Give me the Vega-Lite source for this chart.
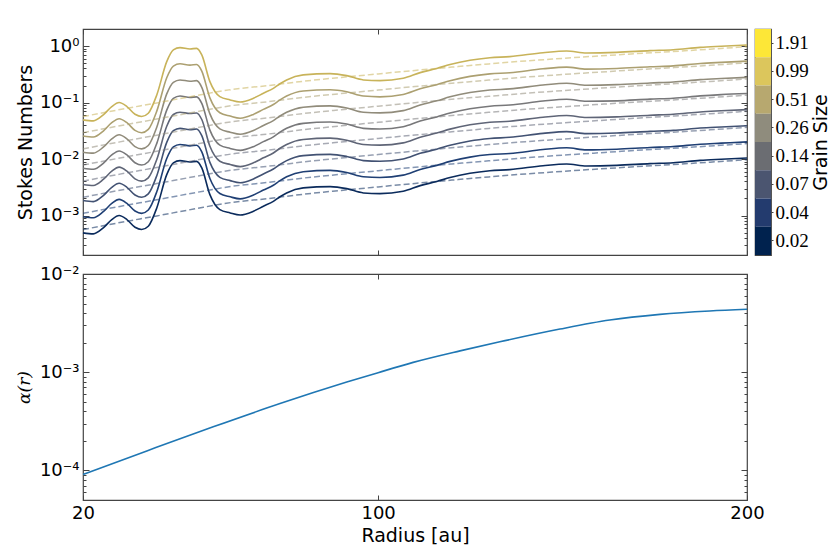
{
  "$schema": "https://vega.github.io/schema/vega-lite/v6.json",
  "background": "white",
  "padding": {"left": 14, "top": 27, "right": 0, "bottom": 5},
  "config": {
    "view": {"stroke": "#444444", "strokeWidth": 1.2},
    "axis": {
      "domain": false,
      "grid": false,
      "labelFont": "DejaVu Sans",
      "labelFontSize": 18,
      "labelColor": "#000000",
      "titleFont": "DejaVu Sans",
      "titleFontSize": 19,
      "titleFontWeight": "normal",
      "titleColor": "#000000",
      "tickColor": "#444444",
      "labelFlush": false
    }
  },
  "datasets": {
    "solid": [
      {"radius":20,"stokes":0.0493,"grain":"1.91"},{"radius":22.8,"stokes":0.0473,"grain":"1.91"},{"radius":25.5,"stokes":0.0604,"grain":"1.91"},{"radius":27.8,"stokes":0.0847,"grain":"1.91"},{"radius":29.8,"stokes":0.0998,"grain":"1.91"},{"radius":31.9,"stokes":0.0847,"grain":"1.91"},{"radius":34.1,"stokes":0.0619,"grain":"1.91"},{"radius":35.9,"stokes":0.0564,"grain":"1.91"},{"radius":37.7,"stokes":0.0645,"grain":"1.91"},{"radius":40,"stokes":0.136,"grain":"1.91"},{"radius":42.7,"stokes":0.528,"grain":"1.91"},{"radius":44.5,"stokes":0.851,"grain":"1.91"},{"radius":46.3,"stokes":0.935,"grain":"1.91"},{"radius":49,"stokes":0.887,"grain":"1.91"},{"radius":50.8,"stokes":0.908,"grain":"1.91"},{"radius":52.2,"stokes":0.695,"grain":"1.91"},{"radius":54.4,"stokes":0.234,"grain":"1.91"},{"radius":57.1,"stokes":0.127,"grain":"1.91"},{"radius":59.9,"stokes":0.111,"grain":"1.91"},{"radius":62.6,"stokes":0.102,"grain":"1.91"},{"radius":66.2,"stokes":0.119,"grain":"1.91"},{"radius":68.9,"stokes":0.146,"grain":"1.91"},{"radius":71.6,"stokes":0.178,"grain":"1.91"},{"radius":73.4,"stokes":0.215,"grain":"1.91"},{"radius":75.2,"stokes":0.251,"grain":"1.91"},{"radius":79.7,"stokes":0.308,"grain":"1.91"},{"radius":87,"stokes":0.325,"grain":"1.91"},{"radius":91.5,"stokes":0.299,"grain":"1.91"},{"radius":96,"stokes":0.251,"grain":"1.91"},{"radius":100.5,"stokes":0.244,"grain":"1.91"},{"radius":106.8,"stokes":0.268,"grain":"1.91"},{"radius":111.4,"stokes":0.338,"grain":"1.91"},{"radius":115.9,"stokes":0.4,"grain":"1.91"},{"radius":119.5,"stokes":0.47,"grain":"1.91"},{"radius":124.9,"stokes":0.56,"grain":"1.91"},{"radius":130.3,"stokes":0.62,"grain":"1.91"},{"radius":135.7,"stokes":0.649,"grain":"1.91"},{"radius":144.7,"stokes":0.762,"grain":"1.91"},{"radius":151.1,"stokes":0.817,"grain":"1.91"},{"radius":156.5,"stokes":0.753,"grain":"1.91"},{"radius":164.7,"stokes":0.772,"grain":"1.91"},{"radius":173.7,"stokes":0.828,"grain":"1.91"},{"radius":180,"stokes":0.86,"grain":"1.91"},{"radius":187.3,"stokes":0.946,"grain":"1.91"},{"radius":193,"stokes":0.99,"grain":"1.91"},{"radius":200,"stokes":1.04,"grain":"1.91"},
      {"radius":20,"stokes":0.0255,"grain":"0.99"},{"radius":22.8,"stokes":0.0245,"grain":"0.99"},{"radius":25.5,"stokes":0.0313,"grain":"0.99"},{"radius":27.8,"stokes":0.0439,"grain":"0.99"},{"radius":29.8,"stokes":0.0517,"grain":"0.99"},{"radius":31.9,"stokes":0.0439,"grain":"0.99"},{"radius":34.1,"stokes":0.0321,"grain":"0.99"},{"radius":35.9,"stokes":0.0292,"grain":"0.99"},{"radius":37.7,"stokes":0.0334,"grain":"0.99"},{"radius":40,"stokes":0.0704,"grain":"0.99"},{"radius":42.7,"stokes":0.274,"grain":"0.99"},{"radius":44.5,"stokes":0.441,"grain":"0.99"},{"radius":46.3,"stokes":0.484,"grain":"0.99"},{"radius":49,"stokes":0.459,"grain":"0.99"},{"radius":50.8,"stokes":0.47,"grain":"0.99"},{"radius":52.2,"stokes":0.36,"grain":"0.99"},{"radius":54.4,"stokes":0.121,"grain":"0.99"},{"radius":57.1,"stokes":0.0658,"grain":"0.99"},{"radius":59.9,"stokes":0.0575,"grain":"0.99"},{"radius":62.6,"stokes":0.0528,"grain":"0.99"},{"radius":66.2,"stokes":0.0616,"grain":"0.99"},{"radius":68.9,"stokes":0.0756,"grain":"0.99"},{"radius":71.6,"stokes":0.0922,"grain":"0.99"},{"radius":73.4,"stokes":0.111,"grain":"0.99"},{"radius":75.2,"stokes":0.13,"grain":"0.99"},{"radius":79.7,"stokes":0.16,"grain":"0.99"},{"radius":87,"stokes":0.168,"grain":"0.99"},{"radius":91.5,"stokes":0.155,"grain":"0.99"},{"radius":96,"stokes":0.13,"grain":"0.99"},{"radius":100.5,"stokes":0.126,"grain":"0.99"},{"radius":106.8,"stokes":0.139,"grain":"0.99"},{"radius":111.4,"stokes":0.175,"grain":"0.99"},{"radius":115.9,"stokes":0.207,"grain":"0.99"},{"radius":119.5,"stokes":0.243,"grain":"0.99"},{"radius":124.9,"stokes":0.29,"grain":"0.99"},{"radius":130.3,"stokes":0.321,"grain":"0.99"},{"radius":135.7,"stokes":0.336,"grain":"0.99"},{"radius":144.7,"stokes":0.395,"grain":"0.99"},{"radius":151.1,"stokes":0.423,"grain":"0.99"},{"radius":156.5,"stokes":0.39,"grain":"0.99"},{"radius":164.7,"stokes":0.4,"grain":"0.99"},{"radius":173.7,"stokes":0.429,"grain":"0.99"},{"radius":180,"stokes":0.445,"grain":"0.99"},{"radius":187.3,"stokes":0.49,"grain":"0.99"},{"radius":193,"stokes":0.513,"grain":"0.99"},{"radius":200,"stokes":0.539,"grain":"0.99"},
      {"radius":20,"stokes":0.0132,"grain":"0.51"},{"radius":22.8,"stokes":0.0127,"grain":"0.51"},{"radius":25.5,"stokes":0.0162,"grain":"0.51"},{"radius":27.8,"stokes":0.0227,"grain":"0.51"},{"radius":29.8,"stokes":0.0268,"grain":"0.51"},{"radius":31.9,"stokes":0.0227,"grain":"0.51"},{"radius":34.1,"stokes":0.0166,"grain":"0.51"},{"radius":35.9,"stokes":0.0151,"grain":"0.51"},{"radius":37.7,"stokes":0.0173,"grain":"0.51"},{"radius":40,"stokes":0.0365,"grain":"0.51"},{"radius":42.7,"stokes":0.142,"grain":"0.51"},{"radius":44.5,"stokes":0.228,"grain":"0.51"},{"radius":46.3,"stokes":0.251,"grain":"0.51"},{"radius":49,"stokes":0.238,"grain":"0.51"},{"radius":50.8,"stokes":0.244,"grain":"0.51"},{"radius":52.2,"stokes":0.186,"grain":"0.51"},{"radius":54.4,"stokes":0.0628,"grain":"0.51"},{"radius":57.1,"stokes":0.0341,"grain":"0.51"},{"radius":59.9,"stokes":0.0298,"grain":"0.51"},{"radius":62.6,"stokes":0.0274,"grain":"0.51"},{"radius":66.2,"stokes":0.0319,"grain":"0.51"},{"radius":68.9,"stokes":0.0392,"grain":"0.51"},{"radius":71.6,"stokes":0.0478,"grain":"0.51"},{"radius":73.4,"stokes":0.0577,"grain":"0.51"},{"radius":75.2,"stokes":0.0673,"grain":"0.51"},{"radius":79.7,"stokes":0.0826,"grain":"0.51"},{"radius":87,"stokes":0.0872,"grain":"0.51"},{"radius":91.5,"stokes":0.0802,"grain":"0.51"},{"radius":96,"stokes":0.0673,"grain":"0.51"},{"radius":100.5,"stokes":0.0655,"grain":"0.51"},{"radius":106.8,"stokes":0.0719,"grain":"0.51"},{"radius":111.4,"stokes":0.0907,"grain":"0.51"},{"radius":115.9,"stokes":0.107,"grain":"0.51"},{"radius":119.5,"stokes":0.126,"grain":"0.51"},{"radius":124.9,"stokes":0.15,"grain":"0.51"},{"radius":130.3,"stokes":0.166,"grain":"0.51"},{"radius":135.7,"stokes":0.174,"grain":"0.51"},{"radius":144.7,"stokes":0.204,"grain":"0.51"},{"radius":151.1,"stokes":0.219,"grain":"0.51"},{"radius":156.5,"stokes":0.202,"grain":"0.51"},{"radius":164.7,"stokes":0.207,"grain":"0.51"},{"radius":173.7,"stokes":0.222,"grain":"0.51"},{"radius":180,"stokes":0.231,"grain":"0.51"},{"radius":187.3,"stokes":0.254,"grain":"0.51"},{"radius":193,"stokes":0.266,"grain":"0.51"},{"radius":200,"stokes":0.279,"grain":"0.51"},
      {"radius":20,"stokes":0.00685,"grain":"0.26"},{"radius":22.8,"stokes":0.00657,"grain":"0.26"},{"radius":25.5,"stokes":0.00839,"grain":"0.26"},{"radius":27.8,"stokes":0.0118,"grain":"0.26"},{"radius":29.8,"stokes":0.0139,"grain":"0.26"},{"radius":31.9,"stokes":0.0118,"grain":"0.26"},{"radius":34.1,"stokes":0.0086,"grain":"0.26"},{"radius":35.9,"stokes":0.00783,"grain":"0.26"},{"radius":37.7,"stokes":0.00896,"grain":"0.26"},{"radius":40,"stokes":0.0189,"grain":"0.26"},{"radius":42.7,"stokes":0.0733,"grain":"0.26"},{"radius":44.5,"stokes":0.118,"grain":"0.26"},{"radius":46.3,"stokes":0.13,"grain":"0.26"},{"radius":49,"stokes":0.123,"grain":"0.26"},{"radius":50.8,"stokes":0.126,"grain":"0.26"},{"radius":52.2,"stokes":0.0965,"grain":"0.26"},{"radius":54.4,"stokes":0.0325,"grain":"0.26"},{"radius":57.1,"stokes":0.0176,"grain":"0.26"},{"radius":59.9,"stokes":0.0154,"grain":"0.26"},{"radius":62.6,"stokes":0.0142,"grain":"0.26"},{"radius":66.2,"stokes":0.0165,"grain":"0.26"},{"radius":68.9,"stokes":0.0203,"grain":"0.26"},{"radius":71.6,"stokes":0.0247,"grain":"0.26"},{"radius":73.4,"stokes":0.0299,"grain":"0.26"},{"radius":75.2,"stokes":0.0349,"grain":"0.26"},{"radius":79.7,"stokes":0.0428,"grain":"0.26"},{"radius":87,"stokes":0.0451,"grain":"0.26"},{"radius":91.5,"stokes":0.0415,"grain":"0.26"},{"radius":96,"stokes":0.0349,"grain":"0.26"},{"radius":100.5,"stokes":0.0339,"grain":"0.26"},{"radius":106.8,"stokes":0.0372,"grain":"0.26"},{"radius":111.4,"stokes":0.047,"grain":"0.26"},{"radius":115.9,"stokes":0.0556,"grain":"0.26"},{"radius":119.5,"stokes":0.0653,"grain":"0.26"},{"radius":124.9,"stokes":0.0778,"grain":"0.26"},{"radius":130.3,"stokes":0.0861,"grain":"0.26"},{"radius":135.7,"stokes":0.0902,"grain":"0.26"},{"radius":144.7,"stokes":0.106,"grain":"0.26"},{"radius":151.1,"stokes":0.114,"grain":"0.26"},{"radius":156.5,"stokes":0.105,"grain":"0.26"},{"radius":164.7,"stokes":0.107,"grain":"0.26"},{"radius":173.7,"stokes":0.115,"grain":"0.26"},{"radius":180,"stokes":0.119,"grain":"0.26"},{"radius":187.3,"stokes":0.131,"grain":"0.26"},{"radius":193,"stokes":0.138,"grain":"0.26"},{"radius":200,"stokes":0.144,"grain":"0.26"},
      {"radius":20,"stokes":0.00355,"grain":"0.14"},{"radius":22.8,"stokes":0.0034,"grain":"0.14"},{"radius":25.5,"stokes":0.00435,"grain":"0.14"},{"radius":27.8,"stokes":0.0061,"grain":"0.14"},{"radius":29.8,"stokes":0.00718,"grain":"0.14"},{"radius":31.9,"stokes":0.0061,"grain":"0.14"},{"radius":34.1,"stokes":0.00446,"grain":"0.14"},{"radius":35.9,"stokes":0.00406,"grain":"0.14"},{"radius":37.7,"stokes":0.00464,"grain":"0.14"},{"radius":40,"stokes":0.00979,"grain":"0.14"},{"radius":42.7,"stokes":0.038,"grain":"0.14"},{"radius":44.5,"stokes":0.0613,"grain":"0.14"},{"radius":46.3,"stokes":0.0673,"grain":"0.14"},{"radius":49,"stokes":0.0638,"grain":"0.14"},{"radius":50.8,"stokes":0.0654,"grain":"0.14"},{"radius":52.2,"stokes":0.05,"grain":"0.14"},{"radius":54.4,"stokes":0.0168,"grain":"0.14"},{"radius":57.1,"stokes":0.00914,"grain":"0.14"},{"radius":59.9,"stokes":0.00799,"grain":"0.14"},{"radius":62.6,"stokes":0.00734,"grain":"0.14"},{"radius":66.2,"stokes":0.00856,"grain":"0.14"},{"radius":68.9,"stokes":0.0105,"grain":"0.14"},{"radius":71.6,"stokes":0.0128,"grain":"0.14"},{"radius":73.4,"stokes":0.0155,"grain":"0.14"},{"radius":75.2,"stokes":0.0181,"grain":"0.14"},{"radius":79.7,"stokes":0.0222,"grain":"0.14"},{"radius":87,"stokes":0.0234,"grain":"0.14"},{"radius":91.5,"stokes":0.0215,"grain":"0.14"},{"radius":96,"stokes":0.0181,"grain":"0.14"},{"radius":100.5,"stokes":0.0176,"grain":"0.14"},{"radius":106.8,"stokes":0.0193,"grain":"0.14"},{"radius":111.4,"stokes":0.0243,"grain":"0.14"},{"radius":115.9,"stokes":0.0288,"grain":"0.14"},{"radius":119.5,"stokes":0.0338,"grain":"0.14"},{"radius":124.9,"stokes":0.0403,"grain":"0.14"},{"radius":130.3,"stokes":0.0446,"grain":"0.14"},{"radius":135.7,"stokes":0.0467,"grain":"0.14"},{"radius":144.7,"stokes":0.0548,"grain":"0.14"},{"radius":151.1,"stokes":0.0588,"grain":"0.14"},{"radius":156.5,"stokes":0.0542,"grain":"0.14"},{"radius":164.7,"stokes":0.0556,"grain":"0.14"},{"radius":173.7,"stokes":0.0596,"grain":"0.14"},{"radius":180,"stokes":0.0619,"grain":"0.14"},{"radius":187.3,"stokes":0.0681,"grain":"0.14"},{"radius":193,"stokes":0.0713,"grain":"0.14"},{"radius":200,"stokes":0.0749,"grain":"0.14"},
      {"radius":20,"stokes":0.00184,"grain":"0.07"},{"radius":22.8,"stokes":0.00176,"grain":"0.07"},{"radius":25.5,"stokes":0.00225,"grain":"0.07"},{"radius":27.8,"stokes":0.00316,"grain":"0.07"},{"radius":29.8,"stokes":0.00372,"grain":"0.07"},{"radius":31.9,"stokes":0.00316,"grain":"0.07"},{"radius":34.1,"stokes":0.00231,"grain":"0.07"},{"radius":35.9,"stokes":0.0021,"grain":"0.07"},{"radius":37.7,"stokes":0.00241,"grain":"0.07"},{"radius":40,"stokes":0.00507,"grain":"0.07"},{"radius":42.7,"stokes":0.0197,"grain":"0.07"},{"radius":44.5,"stokes":0.0317,"grain":"0.07"},{"radius":46.3,"stokes":0.0349,"grain":"0.07"},{"radius":49,"stokes":0.0331,"grain":"0.07"},{"radius":50.8,"stokes":0.0339,"grain":"0.07"},{"radius":52.2,"stokes":0.0259,"grain":"0.07"},{"radius":54.4,"stokes":0.00872,"grain":"0.07"},{"radius":57.1,"stokes":0.00474,"grain":"0.07"},{"radius":59.9,"stokes":0.00414,"grain":"0.07"},{"radius":62.6,"stokes":0.0038,"grain":"0.07"},{"radius":66.2,"stokes":0.00444,"grain":"0.07"},{"radius":68.9,"stokes":0.00544,"grain":"0.07"},{"radius":71.6,"stokes":0.00664,"grain":"0.07"},{"radius":73.4,"stokes":0.00802,"grain":"0.07"},{"radius":75.2,"stokes":0.00936,"grain":"0.07"},{"radius":79.7,"stokes":0.0115,"grain":"0.07"},{"radius":87,"stokes":0.0121,"grain":"0.07"},{"radius":91.5,"stokes":0.0111,"grain":"0.07"},{"radius":96,"stokes":0.00936,"grain":"0.07"},{"radius":100.5,"stokes":0.0091,"grain":"0.07"},{"radius":106.8,"stokes":0.00999,"grain":"0.07"},{"radius":111.4,"stokes":0.0126,"grain":"0.07"},{"radius":115.9,"stokes":0.0149,"grain":"0.07"},{"radius":119.5,"stokes":0.0175,"grain":"0.07"},{"radius":124.9,"stokes":0.0209,"grain":"0.07"},{"radius":130.3,"stokes":0.0231,"grain":"0.07"},{"radius":135.7,"stokes":0.0242,"grain":"0.07"},{"radius":144.7,"stokes":0.0284,"grain":"0.07"},{"radius":151.1,"stokes":0.0305,"grain":"0.07"},{"radius":156.5,"stokes":0.0281,"grain":"0.07"},{"radius":164.7,"stokes":0.0288,"grain":"0.07"},{"radius":173.7,"stokes":0.0309,"grain":"0.07"},{"radius":180,"stokes":0.0321,"grain":"0.07"},{"radius":187.3,"stokes":0.0353,"grain":"0.07"},{"radius":193,"stokes":0.0369,"grain":"0.07"},{"radius":200,"stokes":0.0388,"grain":"0.07"},
      {"radius":20,"stokes":0.000952,"grain":"0.04"},{"radius":22.8,"stokes":0.000913,"grain":"0.04"},{"radius":25.5,"stokes":0.00117,"grain":"0.04"},{"radius":27.8,"stokes":0.00164,"grain":"0.04"},{"radius":29.8,"stokes":0.00193,"grain":"0.04"},{"radius":31.9,"stokes":0.00164,"grain":"0.04"},{"radius":34.1,"stokes":0.0012,"grain":"0.04"},{"radius":35.9,"stokes":0.00109,"grain":"0.04"},{"radius":37.7,"stokes":0.00125,"grain":"0.04"},{"radius":40,"stokes":0.00263,"grain":"0.04"},{"radius":42.7,"stokes":0.0102,"grain":"0.04"},{"radius":44.5,"stokes":0.0164,"grain":"0.04"},{"radius":46.3,"stokes":0.0181,"grain":"0.04"},{"radius":49,"stokes":0.0171,"grain":"0.04"},{"radius":50.8,"stokes":0.0175,"grain":"0.04"},{"radius":52.2,"stokes":0.0134,"grain":"0.04"},{"radius":54.4,"stokes":0.00452,"grain":"0.04"},{"radius":57.1,"stokes":0.00245,"grain":"0.04"},{"radius":59.9,"stokes":0.00214,"grain":"0.04"},{"radius":62.6,"stokes":0.00197,"grain":"0.04"},{"radius":66.2,"stokes":0.0023,"grain":"0.04"},{"radius":68.9,"stokes":0.00282,"grain":"0.04"},{"radius":71.6,"stokes":0.00344,"grain":"0.04"},{"radius":73.4,"stokes":0.00415,"grain":"0.04"},{"radius":75.2,"stokes":0.00485,"grain":"0.04"},{"radius":79.7,"stokes":0.00595,"grain":"0.04"},{"radius":87,"stokes":0.00628,"grain":"0.04"},{"radius":91.5,"stokes":0.00577,"grain":"0.04"},{"radius":96,"stokes":0.00485,"grain":"0.04"},{"radius":100.5,"stokes":0.00471,"grain":"0.04"},{"radius":106.8,"stokes":0.00518,"grain":"0.04"},{"radius":111.4,"stokes":0.00653,"grain":"0.04"},{"radius":115.9,"stokes":0.00772,"grain":"0.04"},{"radius":119.5,"stokes":0.00908,"grain":"0.04"},{"radius":124.9,"stokes":0.0108,"grain":"0.04"},{"radius":130.3,"stokes":0.012,"grain":"0.04"},{"radius":135.7,"stokes":0.0125,"grain":"0.04"},{"radius":144.7,"stokes":0.0147,"grain":"0.04"},{"radius":151.1,"stokes":0.0158,"grain":"0.04"},{"radius":156.5,"stokes":0.0145,"grain":"0.04"},{"radius":164.7,"stokes":0.0149,"grain":"0.04"},{"radius":173.7,"stokes":0.016,"grain":"0.04"},{"radius":180,"stokes":0.0166,"grain":"0.04"},{"radius":187.3,"stokes":0.0183,"grain":"0.04"},{"radius":193,"stokes":0.0191,"grain":"0.04"},{"radius":200,"stokes":0.0201,"grain":"0.04"},
      {"radius":20,"stokes":0.000493,"grain":"0.02"},{"radius":22.8,"stokes":0.000473,"grain":"0.02"},{"radius":25.5,"stokes":0.000604,"grain":"0.02"},{"radius":27.8,"stokes":0.000847,"grain":"0.02"},{"radius":29.8,"stokes":0.000998,"grain":"0.02"},{"radius":31.9,"stokes":0.000847,"grain":"0.02"},{"radius":34.1,"stokes":0.000619,"grain":"0.02"},{"radius":35.9,"stokes":0.000564,"grain":"0.02"},{"radius":37.7,"stokes":0.000645,"grain":"0.02"},{"radius":40,"stokes":0.00136,"grain":"0.02"},{"radius":42.7,"stokes":0.00528,"grain":"0.02"},{"radius":44.5,"stokes":0.00851,"grain":"0.02"},{"radius":46.3,"stokes":0.00935,"grain":"0.02"},{"radius":49,"stokes":0.00887,"grain":"0.02"},{"radius":50.8,"stokes":0.00908,"grain":"0.02"},{"radius":52.2,"stokes":0.00695,"grain":"0.02"},{"radius":54.4,"stokes":0.00234,"grain":"0.02"},{"radius":57.1,"stokes":0.00127,"grain":"0.02"},{"radius":59.9,"stokes":0.00111,"grain":"0.02"},{"radius":62.6,"stokes":0.00102,"grain":"0.02"},{"radius":66.2,"stokes":0.00119,"grain":"0.02"},{"radius":68.9,"stokes":0.00146,"grain":"0.02"},{"radius":71.6,"stokes":0.00178,"grain":"0.02"},{"radius":73.4,"stokes":0.00215,"grain":"0.02"},{"radius":75.2,"stokes":0.00251,"grain":"0.02"},{"radius":79.7,"stokes":0.00308,"grain":"0.02"},{"radius":87,"stokes":0.00325,"grain":"0.02"},{"radius":91.5,"stokes":0.00299,"grain":"0.02"},{"radius":96,"stokes":0.00251,"grain":"0.02"},{"radius":100.5,"stokes":0.00244,"grain":"0.02"},{"radius":106.8,"stokes":0.00268,"grain":"0.02"},{"radius":111.4,"stokes":0.00338,"grain":"0.02"},{"radius":115.9,"stokes":0.004,"grain":"0.02"},{"radius":119.5,"stokes":0.0047,"grain":"0.02"},{"radius":124.9,"stokes":0.0056,"grain":"0.02"},{"radius":130.3,"stokes":0.0062,"grain":"0.02"},{"radius":135.7,"stokes":0.00649,"grain":"0.02"},{"radius":144.7,"stokes":0.00762,"grain":"0.02"},{"radius":151.1,"stokes":0.00817,"grain":"0.02"},{"radius":156.5,"stokes":0.00753,"grain":"0.02"},{"radius":164.7,"stokes":0.00772,"grain":"0.02"},{"radius":173.7,"stokes":0.00828,"grain":"0.02"},{"radius":180,"stokes":0.0086,"grain":"0.02"},{"radius":187.3,"stokes":0.00946,"grain":"0.02"},{"radius":193,"stokes":0.0099,"grain":"0.02"},{"radius":200,"stokes":0.0104,"grain":"0.02"}
    ],
    "dashed": [
      {"radius":20,"stokes":0.0564,"grain":"1.91"},{"radius":30,"stokes":0.075,"grain":"1.91"},{"radius":40,"stokes":0.0984,"grain":"1.91"},{"radius":50,"stokes":0.13,"grain":"1.91"},{"radius":60,"stokes":0.169,"grain":"1.91"},{"radius":70,"stokes":0.199,"grain":"1.91"},{"radius":80,"stokes":0.239,"grain":"1.91"},{"radius":90,"stokes":0.278,"grain":"1.91"},{"radius":100,"stokes":0.321,"grain":"1.91"},{"radius":110,"stokes":0.37,"grain":"1.91"},{"radius":120,"stokes":0.423,"grain":"1.91"},{"radius":130,"stokes":0.482,"grain":"1.91"},{"radius":140,"stokes":0.544,"grain":"1.91"},{"radius":150,"stokes":0.604,"grain":"1.91"},{"radius":160,"stokes":0.667,"grain":"1.91"},{"radius":170,"stokes":0.733,"grain":"1.91"},{"radius":180,"stokes":0.8,"grain":"1.91"},{"radius":190,"stokes":0.879,"grain":"1.91"},{"radius":200,"stokes":0.973,"grain":"1.91"},
      {"radius":20,"stokes":0.0292,"grain":"0.99"},{"radius":30,"stokes":0.0388,"grain":"0.99"},{"radius":40,"stokes":0.051,"grain":"0.99"},{"radius":50,"stokes":0.0673,"grain":"0.99"},{"radius":60,"stokes":0.0875,"grain":"0.99"},{"radius":70,"stokes":0.103,"grain":"0.99"},{"radius":80,"stokes":0.124,"grain":"0.99"},{"radius":90,"stokes":0.144,"grain":"0.99"},{"radius":100,"stokes":0.166,"grain":"0.99"},{"radius":110,"stokes":0.192,"grain":"0.99"},{"radius":120,"stokes":0.219,"grain":"0.99"},{"radius":130,"stokes":0.25,"grain":"0.99"},{"radius":140,"stokes":0.282,"grain":"0.99"},{"radius":150,"stokes":0.313,"grain":"0.99"},{"radius":160,"stokes":0.345,"grain":"0.99"},{"radius":170,"stokes":0.38,"grain":"0.99"},{"radius":180,"stokes":0.414,"grain":"0.99"},{"radius":190,"stokes":0.455,"grain":"0.99"},{"radius":200,"stokes":0.504,"grain":"0.99"},
      {"radius":20,"stokes":0.0151,"grain":"0.51"},{"radius":30,"stokes":0.0201,"grain":"0.51"},{"radius":40,"stokes":0.0264,"grain":"0.51"},{"radius":50,"stokes":0.0349,"grain":"0.51"},{"radius":60,"stokes":0.0453,"grain":"0.51"},{"radius":70,"stokes":0.0534,"grain":"0.51"},{"radius":80,"stokes":0.0641,"grain":"0.51"},{"radius":90,"stokes":0.0746,"grain":"0.51"},{"radius":100,"stokes":0.0861,"grain":"0.51"},{"radius":110,"stokes":0.0993,"grain":"0.51"},{"radius":120,"stokes":0.114,"grain":"0.51"},{"radius":130,"stokes":0.129,"grain":"0.51"},{"radius":140,"stokes":0.146,"grain":"0.51"},{"radius":150,"stokes":0.162,"grain":"0.51"},{"radius":160,"stokes":0.179,"grain":"0.51"},{"radius":170,"stokes":0.197,"grain":"0.51"},{"radius":180,"stokes":0.215,"grain":"0.51"},{"radius":190,"stokes":0.236,"grain":"0.51"},{"radius":200,"stokes":0.261,"grain":"0.51"},
      {"radius":20,"stokes":0.00783,"grain":"0.26"},{"radius":30,"stokes":0.0104,"grain":"0.26"},{"radius":40,"stokes":0.0137,"grain":"0.26"},{"radius":50,"stokes":0.0181,"grain":"0.26"},{"radius":60,"stokes":0.0235,"grain":"0.26"},{"radius":70,"stokes":0.0276,"grain":"0.26"},{"radius":80,"stokes":0.0332,"grain":"0.26"},{"radius":90,"stokes":0.0386,"grain":"0.26"},{"radius":100,"stokes":0.0446,"grain":"0.26"},{"radius":110,"stokes":0.0514,"grain":"0.26"},{"radius":120,"stokes":0.0588,"grain":"0.26"},{"radius":130,"stokes":0.067,"grain":"0.26"},{"radius":140,"stokes":0.0756,"grain":"0.26"},{"radius":150,"stokes":0.0839,"grain":"0.26"},{"radius":160,"stokes":0.0927,"grain":"0.26"},{"radius":170,"stokes":0.102,"grain":"0.26"},{"radius":180,"stokes":0.111,"grain":"0.26"},{"radius":190,"stokes":0.122,"grain":"0.26"},{"radius":200,"stokes":0.135,"grain":"0.26"},
      {"radius":20,"stokes":0.00406,"grain":"0.14"},{"radius":30,"stokes":0.0054,"grain":"0.14"},{"radius":40,"stokes":0.00708,"grain":"0.14"},{"radius":50,"stokes":0.00936,"grain":"0.14"},{"radius":60,"stokes":0.0122,"grain":"0.14"},{"radius":70,"stokes":0.0143,"grain":"0.14"},{"radius":80,"stokes":0.0172,"grain":"0.14"},{"radius":90,"stokes":0.02,"grain":"0.14"},{"radius":100,"stokes":0.0231,"grain":"0.14"},{"radius":110,"stokes":0.0266,"grain":"0.14"},{"radius":120,"stokes":0.0304,"grain":"0.14"},{"radius":130,"stokes":0.0347,"grain":"0.14"},{"radius":140,"stokes":0.0392,"grain":"0.14"},{"radius":150,"stokes":0.0435,"grain":"0.14"},{"radius":160,"stokes":0.048,"grain":"0.14"},{"radius":170,"stokes":0.0528,"grain":"0.14"},{"radius":180,"stokes":0.0576,"grain":"0.14"},{"radius":190,"stokes":0.0633,"grain":"0.14"},{"radius":200,"stokes":0.07,"grain":"0.14"},
      {"radius":20,"stokes":0.0021,"grain":"0.07"},{"radius":30,"stokes":0.0028,"grain":"0.07"},{"radius":40,"stokes":0.00367,"grain":"0.07"},{"radius":50,"stokes":0.00485,"grain":"0.07"},{"radius":60,"stokes":0.0063,"grain":"0.07"},{"radius":70,"stokes":0.00742,"grain":"0.07"},{"radius":80,"stokes":0.00891,"grain":"0.07"},{"radius":90,"stokes":0.0104,"grain":"0.07"},{"radius":100,"stokes":0.012,"grain":"0.07"},{"radius":110,"stokes":0.0138,"grain":"0.07"},{"radius":120,"stokes":0.0158,"grain":"0.07"},{"radius":130,"stokes":0.018,"grain":"0.07"},{"radius":140,"stokes":0.0203,"grain":"0.07"},{"radius":150,"stokes":0.0225,"grain":"0.07"},{"radius":160,"stokes":0.0249,"grain":"0.07"},{"radius":170,"stokes":0.0273,"grain":"0.07"},{"radius":180,"stokes":0.0298,"grain":"0.07"},{"radius":190,"stokes":0.0328,"grain":"0.07"},{"radius":200,"stokes":0.0363,"grain":"0.07"},
      {"radius":20,"stokes":0.00109,"grain":"0.04"},{"radius":30,"stokes":0.00145,"grain":"0.04"},{"radius":40,"stokes":0.0019,"grain":"0.04"},{"radius":50,"stokes":0.00251,"grain":"0.04"},{"radius":60,"stokes":0.00326,"grain":"0.04"},{"radius":70,"stokes":0.00384,"grain":"0.04"},{"radius":80,"stokes":0.00462,"grain":"0.04"},{"radius":90,"stokes":0.00537,"grain":"0.04"},{"radius":100,"stokes":0.0062,"grain":"0.04"},{"radius":110,"stokes":0.00715,"grain":"0.04"},{"radius":120,"stokes":0.00817,"grain":"0.04"},{"radius":130,"stokes":0.00931,"grain":"0.04"},{"radius":140,"stokes":0.0105,"grain":"0.04"},{"radius":150,"stokes":0.0117,"grain":"0.04"},{"radius":160,"stokes":0.0129,"grain":"0.04"},{"radius":170,"stokes":0.0142,"grain":"0.04"},{"radius":180,"stokes":0.0155,"grain":"0.04"},{"radius":190,"stokes":0.017,"grain":"0.04"},{"radius":200,"stokes":0.0188,"grain":"0.04"},
      {"radius":20,"stokes":0.000564,"grain":"0.02"},{"radius":30,"stokes":0.00075,"grain":"0.02"},{"radius":40,"stokes":0.000984,"grain":"0.02"},{"radius":50,"stokes":0.0013,"grain":"0.02"},{"radius":60,"stokes":0.00169,"grain":"0.02"},{"radius":70,"stokes":0.00199,"grain":"0.02"},{"radius":80,"stokes":0.00239,"grain":"0.02"},{"radius":90,"stokes":0.00278,"grain":"0.02"},{"radius":100,"stokes":0.00321,"grain":"0.02"},{"radius":110,"stokes":0.0037,"grain":"0.02"},{"radius":120,"stokes":0.00423,"grain":"0.02"},{"radius":130,"stokes":0.00482,"grain":"0.02"},{"radius":140,"stokes":0.00544,"grain":"0.02"},{"radius":150,"stokes":0.00604,"grain":"0.02"},{"radius":160,"stokes":0.00667,"grain":"0.02"},{"radius":170,"stokes":0.00733,"grain":"0.02"},{"radius":180,"stokes":0.008,"grain":"0.02"},{"radius":190,"stokes":0.00879,"grain":"0.02"},{"radius":200,"stokes":0.00973,"grain":"0.02"}
    ],
    "alpha": [
      {"radius":20,"alpha":0.000091},{"radius":37.3,"alpha":0.000158},{"radius":55.3,"alpha":0.000278},{"radius":73.4,"alpha":0.000479},{"radius":91.5,"alpha":0.000793},{"radius":100,"alpha":0.00099},{"radius":109.5,"alpha":0.00126},{"radius":122.2,"alpha":0.00165},{"radius":133,"alpha":0.00204},{"radius":149.3,"alpha":0.00275},{"radius":162.8,"alpha":0.0034},{"radius":176.4,"alpha":0.00388},{"radius":189.9,"alpha":0.0042},{"radius":200,"alpha":0.00437}
    ],
    "bar": [
      {"grain":"1.91"},{"grain":"0.99"},{"grain":"0.51"},{"grain":"0.26"},{"grain":"0.14"},{"grain":"0.07"},{"grain":"0.04"},{"grain":"0.02"}
    ]
  },
  "resolve": {"scale": {"color": "independent"}},
  "columns": 2,
  "bounds": "flush",
  "spacing": {"row": 19, "column": 8},
  "concat": [
    {
      "width": 664,
      "height": 226,
      "layer": [
        {
          "data": {"name": "solid"},
          "mark": {"type": "line", "interpolate": "monotone", "strokeWidth": 1.6},
          "encoding": {
            "x": {
              "field": "radius", "type": "quantitative",
              "scale": {"domain": [20, 200], "nice": false, "zero": false},
              "axis": {"values": [20, 100, 200], "labels": false, "title": null, "tickSize": -5}
            },
            "y": {
              "field": "stokes", "type": "quantitative",
              "scale": {"type": "log", "domain": [0.0002, 2], "nice": false},
              "axis": {
                "title": "Stokes Numbers",
                "titlePadding": 4,
                "values": [0.0003,0.0004,0.0005,0.0006,0.0007,0.0008,0.0009,0.001,0.002,0.003,0.004,0.005,0.006,0.007,0.008,0.009,0.01,0.02,0.03,0.04,0.05,0.06,0.07,0.08,0.09,0.1,0.2,0.3,0.4,0.5,0.6,0.7,0.8,0.9,1],
                "labelExpr": "datum.value == 1 ? '10⁰' : datum.value == 0.1 ? '10⁻¹' : datum.value == 0.01 ? '10⁻²' : datum.value == 0.001 ? '10⁻³' : ''",
                "tickSize": {"condition": {"test": "datum.value == 1 || datum.value == 0.1 || datum.value == 0.01 || datum.value == 0.001", "value": -6}, "value": -3},
                "labelPadding": 10
              }
            },
            "color": {
              "field": "grain", "type": "nominal",
              "scale": {
                "domain": ["0.02","0.04","0.07","0.14","0.26","0.51","0.99","1.91"],
                "range": ["#0b2b5c","#1f3f74","#425273","#5f6577","#78787a","#918c7b","#aca071","#c8b35a"]
              },
              "legend": null
            }
          }
        },
        {
          "data": {"name": "dashed"},
          "mark": {"type": "line", "interpolate": "monotone", "strokeWidth": 1.5, "strokeDash": [6, 3], "opacity": 0.55},
          "encoding": {
            "x": {"field": "radius", "type": "quantitative", "axis": null},
            "y": {"field": "stokes", "type": "quantitative", "axis": null},
            "color": {"field": "grain", "type": "nominal", "legend": null}
          }
        },
        {
          "data": {"name": "dashed"},
          "mark": {"type": "line", "opacity": 0},
          "encoding": {
            "x": {
              "field": "radius", "type": "quantitative",
              "axis": {"orient": "top", "values": [20, 100, 200], "labels": false, "title": null, "tickSize": -5}
            },
            "y": {
              "field": "stokes", "type": "quantitative",
              "axis": {
                "orient": "right", "labels": false, "title": null,
                "values": [0.0003,0.0004,0.0005,0.0006,0.0007,0.0008,0.0009,0.001,0.002,0.003,0.004,0.005,0.006,0.007,0.008,0.009,0.01,0.02,0.03,0.04,0.05,0.06,0.07,0.08,0.09,0.1,0.2,0.3,0.4,0.5,0.6,0.7,0.8,0.9,1],
                "tickSize": {"condition": {"test": "datum.value == 1 || datum.value == 0.1 || datum.value == 0.01 || datum.value == 0.001", "value": -6}, "value": -3}
              }
            }
          }
        }
      ],
      "resolve": {"axis": {"x": "independent", "y": "independent"}}
    },
    {
      "width": 16,
      "height": 226,
      "data": {"name": "bar"},
      "mark": {"type": "rect"},
      "encoding": {
        "y": {
          "field": "grain", "type": "ordinal",
          "scale": {"domain": ["1.91","0.99","0.51","0.26","0.14","0.07","0.04","0.02"], "paddingInner": 0, "paddingOuter": 0},
          "axis": {
            "orient": "right",
            "title": "Grain Size",
            "titleAngle": -90,
            "titleBaseline": "top",
            "titlePadding": 3,
            "titleFontSize": 19,
            "labelFont": "Liberation Serif",
            "labelFontSize": 19,
            "tickSize": 2,
            "labelPadding": 2
          }
        },
        "color": {
          "field": "grain", "type": "ordinal",
          "scale": {
            "domain": ["0.02","0.04","0.07","0.14","0.26","0.51","0.99","1.91"],
            "range": ["#00224e","#233b6e","#4b5570","#6b6d72","#8f8c7d","#b7a86f","#dcc65c","#fde737"]
          },
          "legend": null
        }
      }
    },
    {
      "width": 664,
      "height": 226,
      "layer": [
        {
          "data": {"name": "alpha"},
          "mark": {"type": "line", "interpolate": "monotone", "color": "#1f77b4", "strokeWidth": 1.6},
          "encoding": {
            "x": {
              "field": "radius", "type": "quantitative",
              "scale": {"domain": [20, 200], "nice": false, "zero": false},
              "axis": {"values": [20, 100, 200], "title": "Radius [au]", "tickSize": -5, "labelPadding": 9, "titlePadding": 4}
            },
            "y": {
              "field": "alpha", "type": "quantitative",
              "scale": {"type": "log", "domain": [0.00005, 0.01], "nice": false},
              "axis": {
                "title": "α(r)",
                "titleFont": "DejaVu Serif",
                "titleFontStyle": "italic",
                "titleFontSize": 17,
                "titlePadding": 6,
                "values": [0.00006,0.00007,0.00008,0.00009,0.0001,0.0002,0.0003,0.0004,0.0005,0.0006,0.0007,0.0008,0.0009,0.001,0.002,0.003,0.004,0.005,0.006,0.007,0.008,0.009,0.01],
                "labelExpr": "datum.value == 0.0001 ? '10⁻⁴' : datum.value == 0.001 ? '10⁻³' : datum.value == 0.01 ? '10⁻²' : ''",
                "tickSize": {"condition": {"test": "datum.value == 0.0001 || datum.value == 0.001 || datum.value == 0.01", "value": -6}, "value": -3},
                "labelPadding": 10
              }
            }
          }
        },
        {
          "data": {"name": "alpha"},
          "mark": {"type": "line", "opacity": 0},
          "encoding": {
            "x": {
              "field": "radius", "type": "quantitative",
              "axis": {"orient": "top", "values": [20, 100, 200], "labels": false, "title": null, "tickSize": -5}
            },
            "y": {
              "field": "alpha", "type": "quantitative",
              "axis": {
                "orient": "right", "labels": false, "title": null,
                "values": [0.00006,0.00007,0.00008,0.00009,0.0001,0.0002,0.0003,0.0004,0.0005,0.0006,0.0007,0.0008,0.0009,0.001,0.002,0.003,0.004,0.005,0.006,0.007,0.008,0.009,0.01],
                "tickSize": {"condition": {"test": "datum.value == 0.0001 || datum.value == 0.001 || datum.value == 0.01", "value": -6}, "value": -3}
              }
            }
          }
        }
      ],
      "resolve": {"axis": {"x": "independent", "y": "independent"}}
    }
  ]
}
